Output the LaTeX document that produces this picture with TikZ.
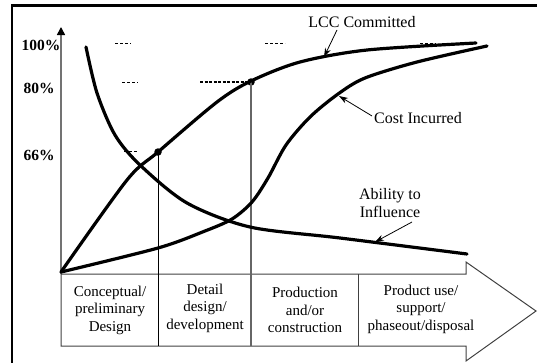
\documentclass[tikz,border=0pt]{standalone}
\usepackage{fontspec}
\setmainfont{Liberation Serif}
\usetikzlibrary{arrows.meta}
\begin{document}
\begin{tikzpicture}[x=1pt,y=-1pt,
  curve/.style={line width=3.2pt,line cap=round,line join=round},
  lbl/.style={font=\fontsize{16}{18}\selectfont,inner sep=0pt,align=center},
  pct/.style={font=\bfseries\fontsize{15.5}{18}\selectfont,inner sep=0pt},
  cell/.style={font=\fontsize{15}{17.5}\selectfont,inner sep=0pt,align=center},
  tableline/.style={draw=black!75,line width=1pt},
  dashmark/.style={dash pattern=on 3pt off 2pt,line width=0.8pt},
  pointer/.style={-{Stealth[length=9pt,width=6pt]},line width=0.8pt},
  dot/.style={circle,fill=black,inner sep=0pt,minimum size=7.5pt}]
\useasboundingbox (0,0) rectangle (537,362);
% outer frame
\draw[line width=2.4pt] (12,370) -- (12,5.5) -- (545,5.5);
% y axis
\coordinate (origin) at (61,274);
\coordinate (ytop) at (61,27);
\draw[black!55,line width=1.6pt,-{Triangle[length=8pt,width=8pt,color=black]}] (origin) -- (ytop);
% percentage labels
\node[pct] (p100) at (41,45) {100\%};
\node[pct] (p80) at (39,88) {80\%};
\node[pct] (p66) at (39,155) {66\%};
% short dashed marks
\draw[dashmark] (115,43) -- (131,43);
\draw[dashmark] (265,43) -- (285,43);
\draw[dashmark] (420,43) -- (436,43);
\draw[dashmark] (122,82) -- (138,82);
\draw[dashmark] (124,151) -- (138,151);
% table / phase arrow
\draw[tableline] (61,274) -- (466,274) -- (466,262) -- (536,311) -- (466,361) -- (466,346) -- (61,346) -- cycle;
\node[dot] (d66) at (158,152) {};
\node[dot] (d80) at (251,82) {};
\draw[black,line width=0.9pt] (d66.center) -- (158,346);
\draw[black!60,line width=1.2pt] (d80.center) -- (251,346);
\draw[tableline] (358,274) -- (358,346);
\draw[dash pattern=on 3pt off 1.5pt,line width=1.6pt] (200,82) -- (d80.west);
% curves
\draw[curve] plot[smooth] coordinates {(61,272) (127,180) (158,152) (217,102) (251,81) (300,62) (367,50) (476,43)};
\draw[curve] plot[smooth] coordinates {(61,272) (158,248) (205,231) (232,219) (252,202) (268,178) (286,145) (310,117) (338,94) (365,78) (417,62) (487,46)};
\draw[curve] plot[smooth] coordinates {(86,47) (97,93) (115,135) (140,165) (187,203) (250,227) (340,238) (467,254)};
% curve labels
\node[lbl] (lcc) at (362,22) {LCC Committed};
\node[lbl] (ci) at (418,118) {Cost Incurred};
\node[lbl] (abl) at (390,203) {Ability to\\Influence};
\coordinate (lccpt) at (324,57);
\coordinate (cipt) at (339,96);
\coordinate (ablpt) at (375,242);
\draw[pointer] (337,30) -- (lccpt);
\draw[pointer] (ci.west) ++(-2,-2) -- (cipt);
\draw[pointer] (412,222) -- (ablpt);
% phase cells
\node[cell] (c1) at (110,310) {Conceptual/\\preliminary\\Design};
\node[cell] (c2) at (205,308) {Detail\\design/\\development};
\node[cell] (c3) at (305,310) {Production\\and/or\\construction};
\node[cell] (c4) at (421,309) {Product use/\\support/\\phaseout/disposal};
\end{tikzpicture}
\end{document}
